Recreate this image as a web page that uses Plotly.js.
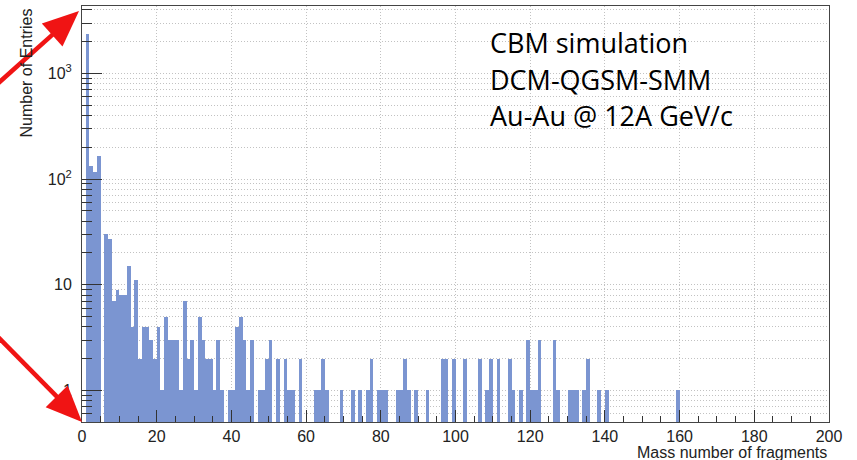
<!DOCTYPE html>
<html>
<head>
<meta charset="utf-8">
<script src="https://cdn.plot.ly/plotly-3.0.1.min.js"></script>
<style>
  html, body { margin: 0; padding: 0; background: #ffffff; }
  #chart { width: 857px; height: 460px; }
</style>
</head>
<body>
<div id="chart"></div>
<script>
// Fragment mass-number distribution (non-empty bins, bin [A, A+1))
const massNumber = [
  1, 2, 3, 4, 6, 7, 8, 9, 10, 11, 12, 13, 14, 15, 16, 17, 18, 19, 20,
  21, 22, 23, 24, 25, 26, 27, 28, 29, 30, 31, 32, 33, 34, 35, 36, 37,
  39, 40, 41, 42, 43, 44, 45, 47, 48, 49, 50, 52, 54, 55, 56, 58,
  62, 63, 64, 65, 69, 72, 74, 76, 77, 79, 80, 81, 84, 85, 86, 87, 89,
  92, 96, 97, 99, 102, 106, 108, 109, 111, 114, 115, 117, 119, 120,
  121, 122, 126, 127, 130, 131, 132, 134, 135, 138, 140, 159
];
const entries = [
  2340, 134, 116, 166, 30, 27, 7, 9, 8, 8, 15, 4, 11, 2, 4, 4, 3, 2, 4,
  1, 5, 3, 3, 3, 1, 7, 2, 3, 1, 5, 3, 2, 2, 1, 3, 1,
  1, 1, 4, 5, 3, 1, 3, 1, 1, 2, 3, 2, 2, 1, 1, 2,
  1, 1, 2, 1, 1, 1, 1, 1, 2, 1, 1, 1, 1, 1, 2, 1, 1,
  1, 2, 2, 2, 2, 2, 1, 2, 2, 2, 1, 1, 3, 1,
  1, 3, 3, 1, 1, 1, 1, 1, 2, 1, 1, 1
];

// Axis ticks and labels
const xTickStep = 20;
const yTickVals = [1, 10, 100, 1000];
const yTickText = ['1', '10', '10<sup>2</sup>', '10<sup>3</sup>'];
const yMinorVals = [0.6, 0.7, 0.8, 0.9,
  2, 3, 4, 5, 6, 7, 8, 9,
  20, 30, 40, 50, 60, 70, 80, 90,
  200, 300, 400, 500, 600, 700, 800, 900,
  2000, 3000, 4000];

const infoLines = ['CBM simulation', 'DCM-QGSM-SMM', 'Au-Au @ 12A GeV/c'];
const xTitle = 'Mass number of fragments';
const yTitle = 'Number of Entries';

// Plot-area geometry in pixels (used for decorations only)
const M = { l: 82, r: 28, t: 6, b: 38 };
const W = 857, H = 460;
const PW = W - M.l - M.r, PH = H - M.t - M.b;
function px(x, y) { return [(x - M.l) / PW, (H - M.b - y) / PH]; }

// Red pointer arrows built as paper-referenced shapes
function arrowShapes(tail, tip, headLen, headW, lw, color) {
  const dx = tip[0] - tail[0], dy = tip[1] - tail[1];
  const L = Math.hypot(dx, dy);
  const ux = dx / L, uy = dy / L;
  const base = [tip[0] - ux * headLen, tip[1] - uy * headLen];
  const c1 = [base[0] - uy * headW / 2, base[1] + ux * headW / 2];
  const c2 = [base[0] + uy * headW / 2, base[1] - ux * headW / 2];
  const t = px(tail[0], tail[1]), b = px(base[0] + ux * 2, base[1] + uy * 2);
  const p0 = px(tip[0], tip[1]), p1 = px(c1[0], c1[1]), p2 = px(c2[0], c2[1]);
  return [
    { type: 'line', xref: 'paper', yref: 'paper', x0: t[0], y0: t[1], x1: b[0], y1: b[1],
      line: { color: color, width: lw } },
    { type: 'path', xref: 'paper', yref: 'paper',
      path: `M ${p0[0]},${p0[1]} L ${p1[0]},${p1[1]} L ${p2[0]},${p2[1]} Z`,
      fillcolor: color, line: { color: color, width: 0 } }
  ];
}

const red = '#f01414';
const shapes = [].concat(
  arrowShapes([-6, 87], [79, 11], 36, 31, 4.5, red),
  arrowShapes([-6, 333], [82, 422], 36, 31, 4.5, red)
);

const axisFont = { family: 'Liberation Sans, Arial, sans-serif', size: 16, color: '#222222' };
const gridColor = '#c2c2c2';
const gridDash = '1px,2px';

const annotations = [];
// info text block
const infoBase = [42, 79, 116];
infoLines.forEach((s, i) => {
  const p = px(488, infoBase[i]);
  annotations.push({
    xref: 'paper', yref: 'paper', x: p[0], y: p[1],
    xanchor: 'left', yanchor: 'middle', showarrow: false, text: s,
    font: { family: 'Open Sans, sans-serif', size: 27, color: '#000000' }
  });
});
// axis titles (ROOT style: aligned to the axis end)
{
  const p = px(829, 452);
  annotations.push({
    xref: 'paper', yref: 'paper', x: 1.0, y: p[1], xanchor: 'right', yanchor: 'middle',
    showarrow: false, text: xTitle, font: axisFont
  });
  const q = px(26, 7);
  annotations.push({
    xref: 'paper', yref: 'paper', x: q[0], y: q[1], xanchor: 'center', yanchor: 'top',
    showarrow: false, text: yTitle, textangle: -90, font: axisFont
  });
}

const trace = {
  type: 'bar',
  x: massNumber,
  y: entries,
  width: 1,
  offset: 0,
  marker: { color: '#7b95d1', line: { width: 0 } },
  hoverinfo: 'x+y'
};

const layout = {
  width: W, height: H,
  margin: M,
  paper_bgcolor: '#ffffff',
  plot_bgcolor: '#ffffff',
  bargap: 0,
  showlegend: false,
  font: axisFont,
  xaxis: {
    range: [0, 200], tick0: 0, dtick: xTickStep,
    ticks: 'inside', ticklen: 12, tickcolor: '#333333', tickwidth: 1,
    showline: true, mirror: true, linecolor: '#444444', linewidth: 1,
    showgrid: true, gridcolor: gridColor, griddash: gridDash, gridwidth: 1,
    zeroline: false, tickfont: axisFont, ticklabelstandoff: 0,
    minor: { dtick: 5, ticks: 'inside', ticklen: 6, tickcolor: '#333333', showgrid: false }
  },
  yaxis: {
    type: 'log', range: [Math.log10(0.503), Math.log10(4345)],
    tickmode: 'array', tickvals: yTickVals, ticktext: yTickText,
    ticks: 'inside', ticklen: 20, tickcolor: '#333333', tickwidth: 1,
    showline: true, mirror: true, linecolor: '#444444', linewidth: 1,
    showgrid: true, gridcolor: gridColor, griddash: gridDash, gridwidth: 1,
    zeroline: false, tickfont: axisFont, ticklabelstandoff: 6,
    minor: { tickmode: 'array', tickvals: yMinorVals, ticks: 'inside', ticklen: 10,
             tickcolor: '#333333', showgrid: true, gridcolor: gridColor, griddash: gridDash, gridwidth: 1 }
  },
  shapes: shapes,
  annotations: annotations
};

Plotly.newPlot('chart', [trace], layout, { displayModeBar: false, staticPlot: true });
</script>
</body>
</html>
